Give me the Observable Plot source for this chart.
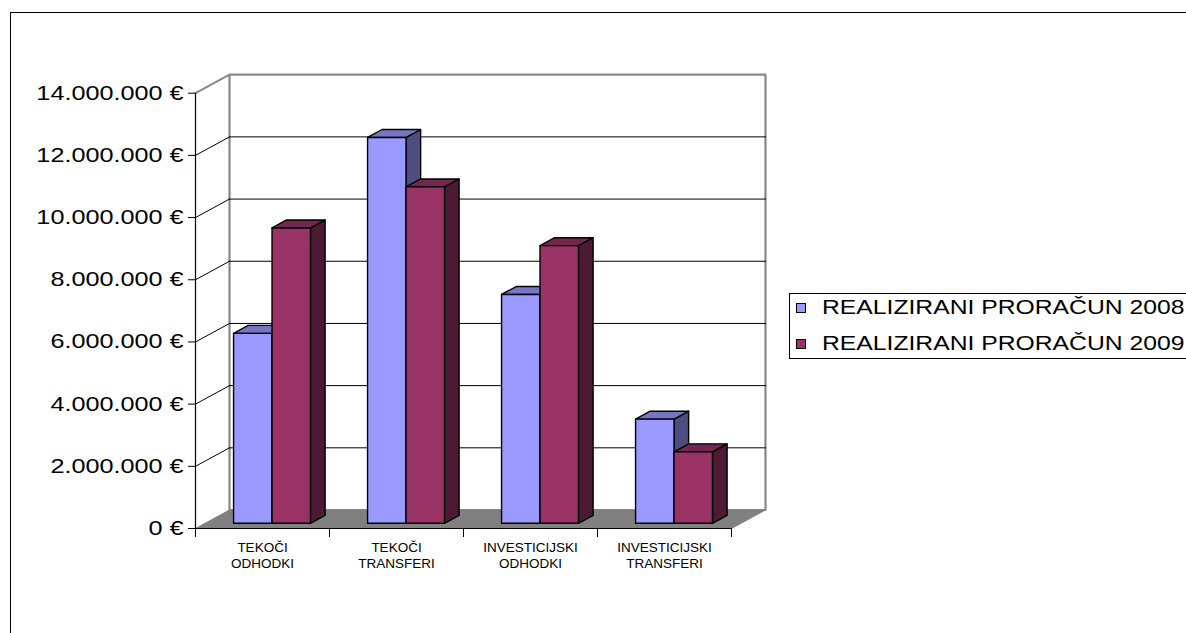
<!DOCTYPE html>
<html>
<head>
<meta charset="utf-8">
<script src="https://cdn.jsdelivr.net/npm/d3@7"></script>
<script src="https://cdn.jsdelivr.net/npm/@observablehq/plot@0.6"></script>
<style>
  html, body { margin: 0; padding: 0; background: #fff; overflow: hidden; }
  body { width: 1186px; height: 633px; position: relative; font-family: "Liberation Sans", Arial, sans-serif; }
  #frame { position: absolute; left: 10px; top: 12px; width: 1300px; height: 800px; border-left: 1px solid #000; border-top: 1px solid #000; }
  #chart { position: absolute; left: 0; top: 0; }
  #legend { position: absolute; left: 789px; top: 293px; width: 420px; height: 64px; border: 1px solid #000; background: #fff; }
  .sw { position: absolute; left: 6px; width: 8px; height: 8px; border: 1px solid #000; }
  .lt { position: absolute; left: 32px; font-size: 20px; white-space: nowrap; transform: scaleX(1.235); transform-origin: left center; line-height: 24px; color: #000; }
</style>
</head>
<body>
<div id="frame"></div>
<div id="chart"></div>
<div id="legend"></div>
<script>
// ---- data ----
const categories = ["TEKOČI\nODHODKI", "TEKOČI\nTRANSFERI", "INVESTICIJSKI\nODHODKI", "INVESTICIJSKI\nTRANSFERI"];
const seriesNames = ["REALIZIRANI PRORAČUN 2008", "REALIZIRANI PRORAČUN 2009"];
const values2008 = [6110000, 12410000, 7360000, 3350000];
const values2009 = [9500000, 10820000, 8930000, 2300000];
const yTicks = [0, 2000000, 4000000, 6000000, 8000000, 10000000, 12000000, 14000000];
const frontColors = ["#9999FF", "#993366"];
const topColors = ["#7676C4", "#74274E"];
const sideColors = ["#4D4D80", "#4D1A33"];

// ---- 3D projection helpers (in data units) ----
const yMax = 14000000;
const DX = 34 / 134;                 // x-units per full depth
const DY = 18.5 * yMax / 435.3;      // value-units per full depth
const P = (x, v, d) => ({x: x + d * DX, y: v + d * DY});
const poly = pts => [...pts, pts[0]];

const barW = 0.287, groupStart = 0.5 - barW;
const d0 = 0.28, d1 = 0.71;

const seriesValues = [values2008, values2009];
const barMarks = [];
categories.forEach((c, i) => {
  seriesValues.forEach((vals, s) => {
    const v = vals[i];
    const x0 = i + groupStart + s * barW, x1 = x0 + barW;
    const side = poly([P(x1, 0, d0), P(x1, 0, d1), P(x1, v, d1), P(x1, v, d0)]);
    const top = poly([P(x0, v, d0), P(x1, v, d0), P(x1, v, d1), P(x0, v, d1)]);
    const front = poly([P(x0, 0, d0), P(x1, 0, d0), P(x1, v, d0), P(x0, v, d0)]);
    const opt = {x: "x", y: "y", stroke: "#000", strokeWidth: 1.4, strokeLinejoin: "round"};
    barMarks.push(Plot.line(side, {...opt, fill: sideColors[s]}));
    barMarks.push(Plot.line(top, {...opt, fill: topColors[s]}));
    barMarks.push(Plot.line(front, {...opt, fill: frontColors[s]}));
  });
});

const nCat = categories.length;
const sideWall = poly([P(0, 0, 0), P(0, 0, 1), P(0, yMax, 1), P(0, yMax, 0)]);
const backWall = poly([P(0, 0, 1), P(nCat, 0, 1), P(nCat, yMax, 1), P(0, yMax, 1)]);
const floor = poly([P(0, 0, 0), P(nCat, 0, 0), P(nCat, 0, 1), P(0, 0, 1)]);
const inner = yTicks.filter(t => t > 0 && t < yMax);
const backGrid = inner.flatMap(t => [{...P(0, t, 1), k: t}, {...P(nCat, t, 1), k: t}]);
const sideGrid = inner.flatMap(t => [{...P(0, t, 0), k: t}, {...P(0, t, 1), k: t}]);
const sideTop = [P(0, yMax, 0), P(0, yMax, 1)];

const fmt = d => d3.format(",")(d).replace(/,/g, ".") + " €";

const chart = Plot.plot({
  width: 1186,
  height: 633,
  marginLeft: 195,
  marginRight: 1186 - 731,
  marginTop: 92.7,
  marginBottom: 633 - 528,
  style: {fontFamily: "'Liberation Sans', Arial, sans-serif", background: "transparent", overflow: "visible"},
  x: {domain: [0, nCat]},
  y: {domain: [0, yMax]},
  marks: [
    Plot.line(sideWall, {x: "x", y: "y", fill: "#fff", stroke: "none"}),
    Plot.line(backWall, {x: "x", y: "y", fill: "#fff", stroke: "#888", strokeWidth: 2.2}),
    Plot.line(backGrid, {x: "x", y: "y", z: "k", stroke: "#000", strokeWidth: 1}),
    Plot.line(sideGrid, {x: "x", y: "y", z: "k", stroke: "#000", strokeWidth: 1}),
    Plot.line(sideTop, {x: "x", y: "y", stroke: "#888", strokeWidth: 2}),
    Plot.line(floor, {x: "x", y: "y", fill: "#808080", stroke: "#808080", strokeWidth: 1}),
    Plot.ruleX([0], {y1: 0, y2: yMax, stroke: "#000", strokeWidth: 1.2}),
    Plot.ruleY([0], {x1: 0, x2: nCat, stroke: "#000", strokeWidth: 1.2}),
    ...barMarks,
    Plot.axisY({ticks: yTicks, tickFormat: fmt, tickSize: 7, tickPadding: 5, fontSize: 20, stroke: "#000", fill: "#000", label: null}),
    Plot.axisX({ticks: [0, 1, 2, 3, 4], tickFormat: () => "", tickSize: 9, stroke: "#000", label: null}),
    Plot.text(categories, {x: (d, i) => i + 0.5, y: 0, text: d => d.split("\n")[0], dy: 19, fontSize: 13.5, fill: "#000", ariaLabel: "cat-line"}),
    Plot.text(categories, {x: (d, i) => i + 0.5, y: 0, text: d => d.split("\n")[1], dy: 35, fontSize: 13.5, fill: "#000", ariaLabel: "cat-line"})
  ]
});
document.getElementById("chart").append(chart);

// horizontally widen the text like the original rendering
function stretch(selector, f) {
  chart.querySelectorAll(selector).forEach(t => {
    const w = t.getComputedTextLength();
    if (w > 0) { t.setAttribute("textLength", w * f); t.setAttribute("lengthAdjust", "spacingAndGlyphs"); }
  });
}
stretch('g[aria-label="y-axis tick label"] text', 1.26);
stretch('g[aria-label="cat-line"] text', 1.2);

// legend
const legend = document.getElementById("legend");
seriesNames.forEach((name, s) => {
  const sw = document.createElement("div");
  sw.className = "sw";
  sw.style.background = frontColors[s];
  sw.style.top = (s === 0 ? 9 : 45) + "px";
  legend.append(sw);
  const lt = document.createElement("div");
  lt.className = "lt";
  lt.textContent = name;
  lt.style.top = (s === 0 ? 1 : 37) + "px";
  legend.append(lt);
});
</script>
</body>
</html>
